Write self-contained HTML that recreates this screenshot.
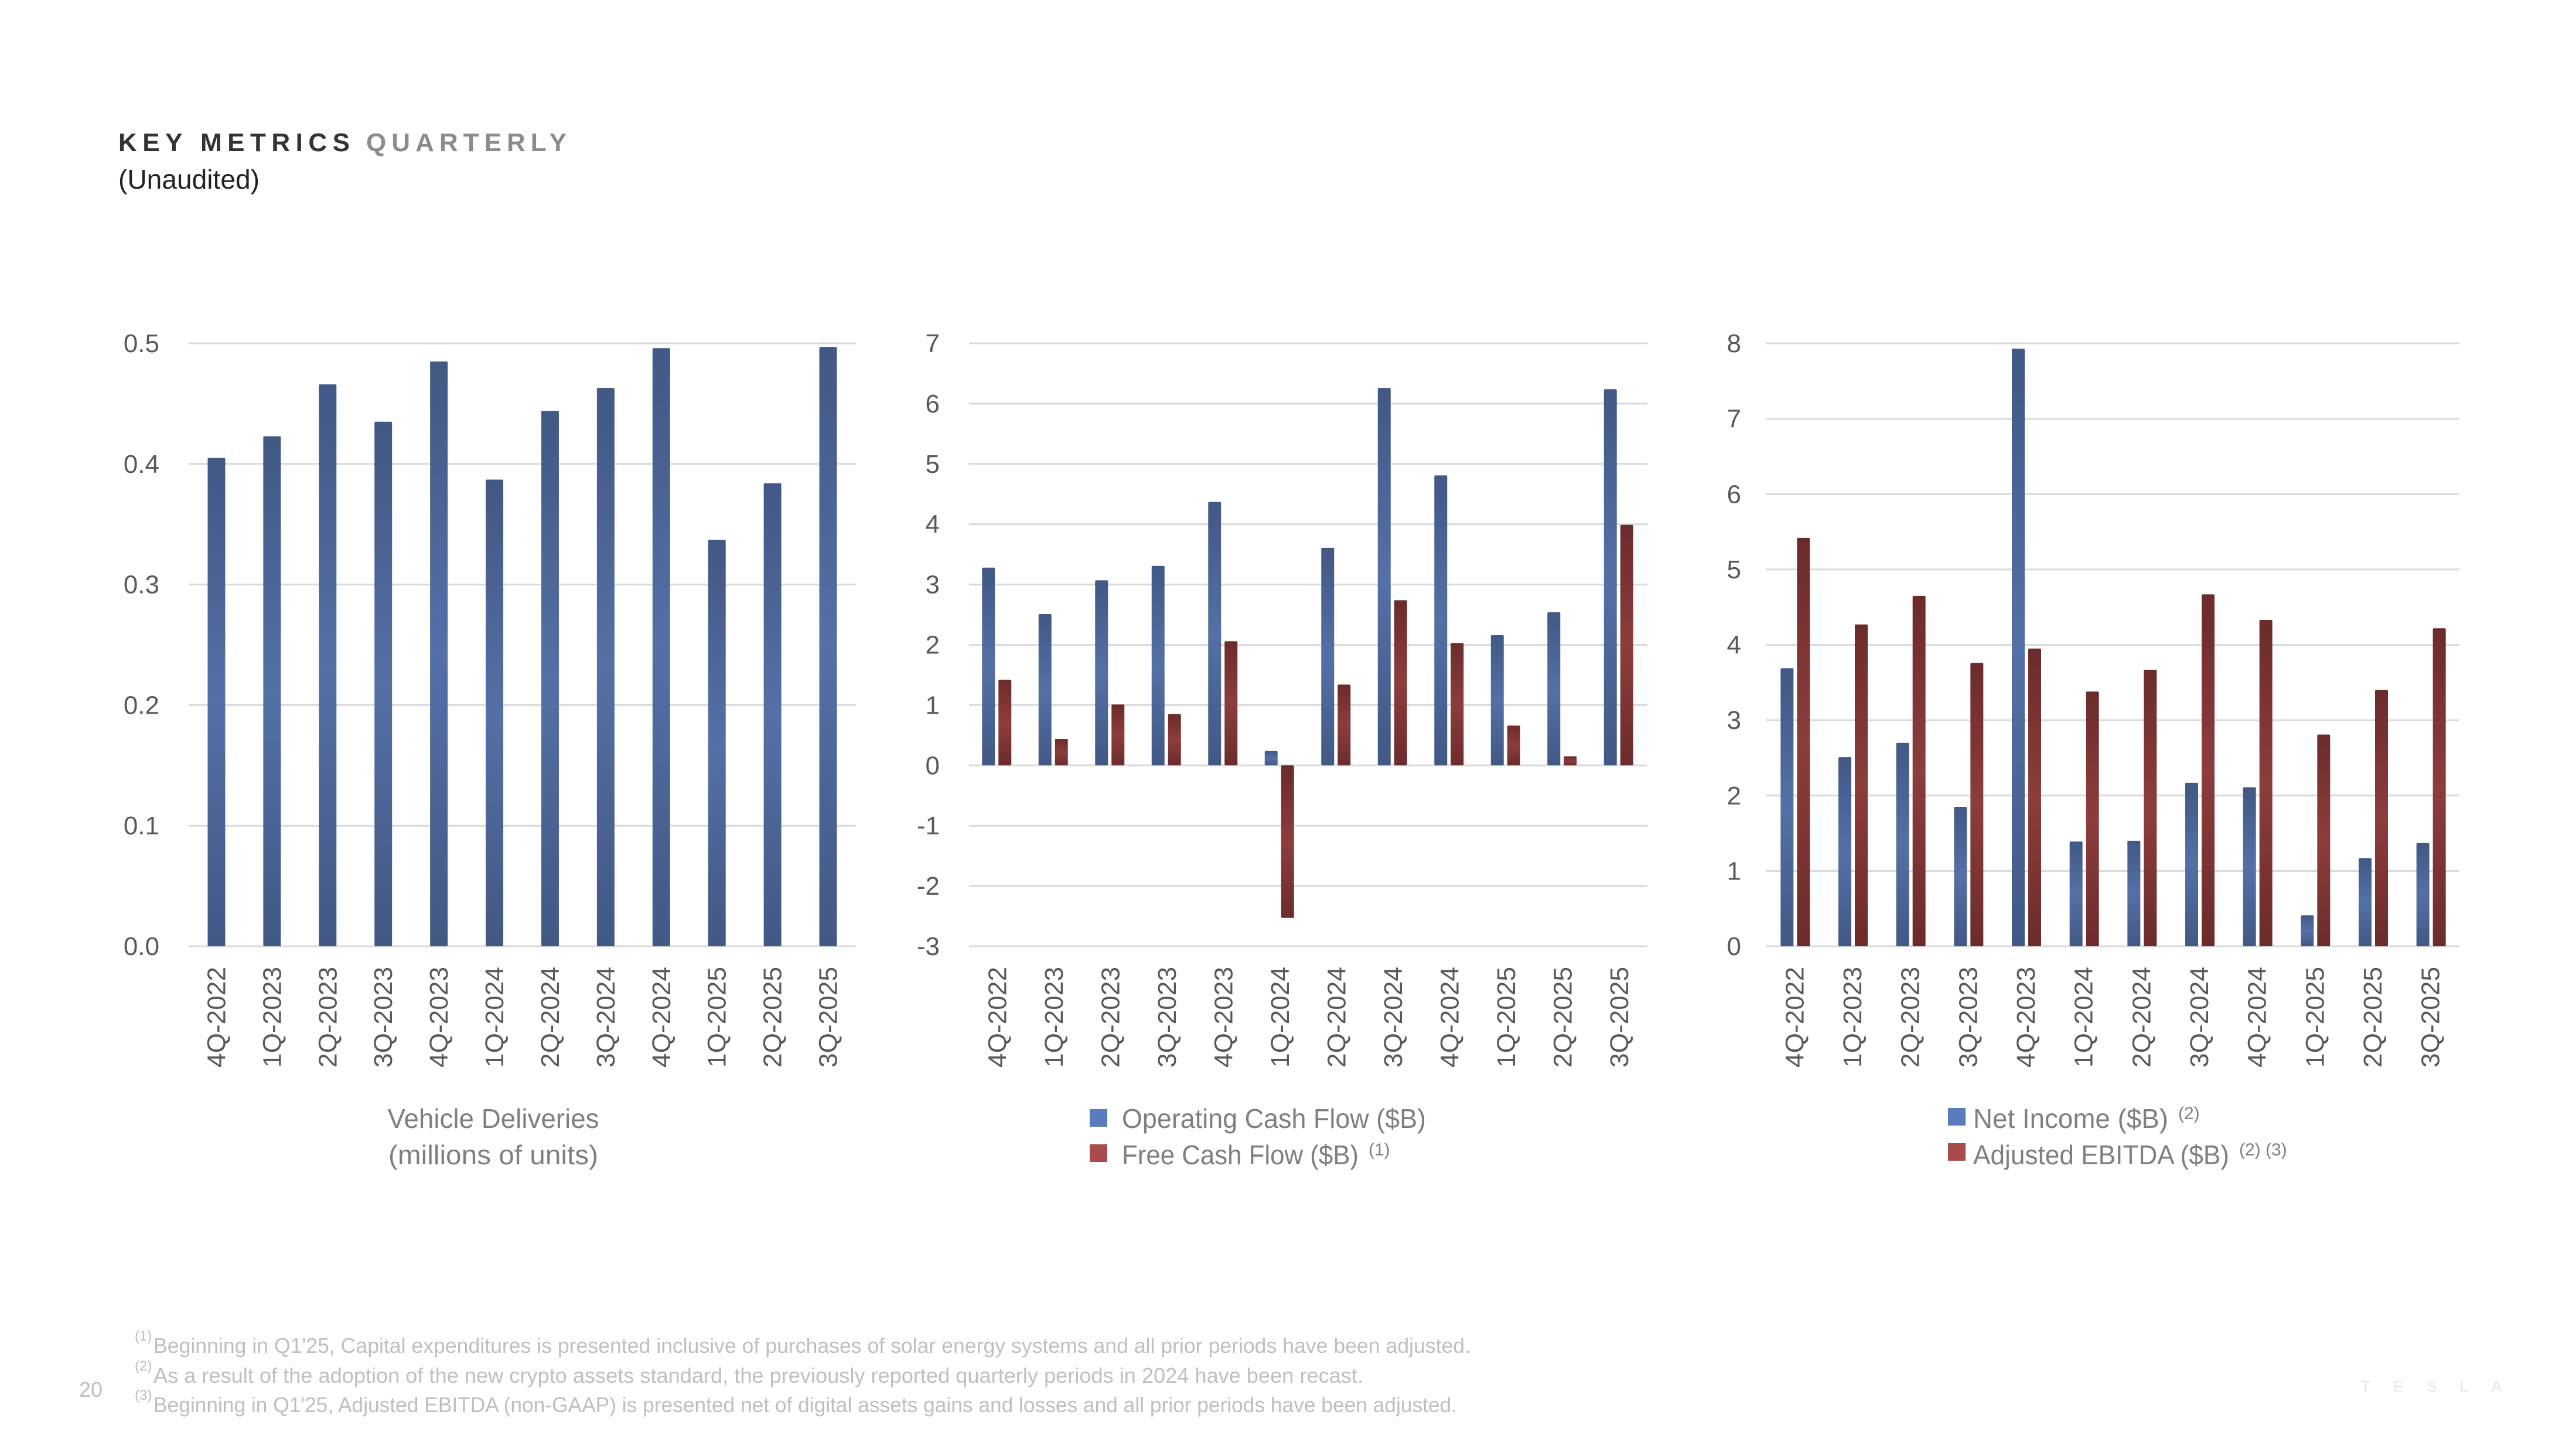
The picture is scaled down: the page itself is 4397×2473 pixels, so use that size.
<!DOCTYPE html>
<html><head><meta charset="utf-8"><style>
html,body{margin:0;padding:0;background:#fff;}
svg{display:block;font-family:"Liberation Sans",sans-serif;}
</style></head><body>
<svg id="s" width="4397" height="2473" viewBox="0 0 4397 2473" xmlns="http://www.w3.org/2000/svg">
<defs>
<linearGradient id="gb" x1="0" y1="0" x2="0" y2="1"><stop offset="0" stop-color="#425885"/><stop offset="0.5" stop-color="#5470a6"/><stop offset="1" stop-color="#425885"/></linearGradient>
<linearGradient id="gr" x1="0" y1="0" x2="0" y2="1"><stop offset="0" stop-color="#6c2b2b"/><stop offset="0.5" stop-color="#8c3d3c"/><stop offset="1" stop-color="#6c2b2b"/></linearGradient>
</defs>
<text x="202" y="258" font-size="44" font-weight="bold" fill="#333" textLength="395" lengthAdjust="spacing">KEY METRICS</text>
<text x="625" y="258" font-size="44" font-weight="bold" fill="#8c8c8c" textLength="342" lengthAdjust="spacing">QUARTERLY</text>
<text x="202" y="322" font-size="46" fill="#222" textLength="241" lengthAdjust="spacingAndGlyphs">(Unaudited)</text>

<text x="842" y="1925" font-size="46" fill="#7f7f7f" text-anchor="middle" textLength="361" lengthAdjust="spacingAndGlyphs">Vehicle Deliveries</text>
<text x="842" y="1987" font-size="46" fill="#7f7f7f" text-anchor="middle" textLength="358" lengthAdjust="spacingAndGlyphs">(millions of units)</text>

<rect x="1860" y="1893" width="30" height="30" fill="#5b7bbf"/>
<text x="1915" y="1925" font-size="46" fill="#7f7f7f" textLength="519" lengthAdjust="spacingAndGlyphs">Operating Cash Flow ($B)</text>
<rect x="1860" y="1953" width="30" height="30" fill="#a94b4b"/>
<text x="1915" y="1987" font-size="46" fill="#7f7f7f" textLength="404" lengthAdjust="spacingAndGlyphs">Free Cash Flow ($B)</text>
<text x="2336" y="1972" font-size="30" fill="#7f7f7f">(1)</text>

<rect x="3325" y="1891" width="30" height="30" fill="#5b7bbf"/>
<text x="3368" y="1925" font-size="46" fill="#7f7f7f" textLength="333" lengthAdjust="spacingAndGlyphs">Net Income ($B)</text>
<text x="3718" y="1910" font-size="30" fill="#7f7f7f">(2)</text>
<rect x="3325" y="1951" width="30" height="30" fill="#a94b4b"/>
<text x="3368" y="1987" font-size="46" fill="#7f7f7f" textLength="437" lengthAdjust="spacingAndGlyphs">Adjusted EBITDA ($B)</text>
<text x="3822" y="1972" font-size="30" fill="#7f7f7f">(2) (3)</text>

<text x="135" y="2384" font-size="36" fill="#bfbfbf">20</text>
<g font-size="36" fill="#bfbfbf">
<text x="230" y="2288" font-size="24">(1)</text><text x="262" y="2309" textLength="2248" lengthAdjust="spacingAndGlyphs">Beginning in Q1'25, Capital expenditures is presented inclusive of purchases of solar energy systems and all prior periods have been adjusted.</text>
<text x="230" y="2339" font-size="24">(2)</text><text x="262" y="2360" textLength="2065" lengthAdjust="spacingAndGlyphs">As a result of the adoption of the new crypto assets standard, the previously reported quarterly periods in 2024 have been recast.</text>
<text x="230" y="2389" font-size="24">(3)</text><text x="262" y="2410" textLength="2225" lengthAdjust="spacingAndGlyphs">Beginning in Q1'25, Adjusted EBITDA (non-GAAP) is presented net of digital assets gains and losses and all prior periods have been adjusted.</text>
</g>
<text x="4030" y="2375" font-size="26" fill="#e4e4e4" textLength="240" lengthAdjust="spacing">TESLA</text>
<g id="charts"></g>
</svg>
<script>
var NS="http://www.w3.org/2000/svg",g=document.getElementById("charts");
function el(t,a,txt){var e=document.createElementNS(NS,t);for(var k in a)e.setAttribute(k,a[k]);if(txt!==undefined)e.textContent=txt;g.appendChild(e);return e;}
var cats=["4Q-2022","1Q-2023","2Q-2023","3Q-2023","4Q-2023","1Q-2024","2Q-2024","3Q-2024","4Q-2024","1Q-2025","2Q-2025","3Q-2025"];
function chart(o){
 var top=586,bot=1615;
 var ppu=(bot-top)/(o.max-o.min);
 function Y(v){return bot-(v-o.min)*ppu;}
 o.ticks.forEach(function(t){var y=Y(t);
  el("line",{x1:o.x0,x2:o.x1,y1:y,y2:y,stroke:"#d9d9d9","stroke-width":3});
  el("text",{x:o.lx,y:y+15,"font-size":44,fill:"#595959","text-anchor":"end"},o.fmt(t));});
 var cw=(o.x1-o.x0)/12;
 cats.forEach(function(c,i){var cx=o.x0+cw*(i+0.5);
  o.series.forEach(function(s){var v=s.d[i];var y0=Y(0),y=Y(v);
   el("rect",{x:cx+s.off,y:Math.min(y,y0),width:s.w,height:Math.abs(y0-y),fill:s.f,rx:2});});
  el("text",{x:0,y:0,"font-size":44,fill:"#595959","text-anchor":"end",textLength:172,lengthAdjust:"spacingAndGlyphs",transform:"translate("+(cx+15)+",1650) rotate(-90)"},c);
 });
}
chart({x0:322,x1:1461,lx:272,min:0,max:0.5,ticks:[0,0.1,0.2,0.3,0.4,0.5],fmt:function(t){return t.toFixed(1);},
 series:[{d:[0.405,0.423,0.466,0.435,0.485,0.387,0.444,0.463,0.496,0.337,0.384,0.497],off:-15,w:30,f:"url(#gb)"}]});
chart({x0:1654,x1:2812,lx:1604,min:-3,max:7,ticks:[-3,-2,-1,0,1,2,3,4,5,6,7],fmt:function(t){return ""+t;},
 series:[{d:[3.28,2.51,3.07,3.31,4.37,0.24,3.61,6.26,4.81,2.16,2.54,6.24],off:-26,w:22,f:"url(#gb)"},
 {d:[1.42,0.44,1.01,0.85,2.06,-2.53,1.34,2.74,2.03,0.66,0.15,3.99],off:2,w:22,f:"url(#gr)"}]});
chart({x0:3014,x1:4198,lx:2972,min:0,max:8,ticks:[0,1,2,3,4,5,6,7,8],fmt:function(t){return ""+t;},
 series:[{d:[3.69,2.51,2.70,1.85,7.93,1.39,1.40,2.17,2.11,0.41,1.17,1.37],off:-24,w:22,f:"url(#gb)"},
 {d:[5.42,4.27,4.65,3.76,3.95,3.38,3.67,4.67,4.33,2.81,3.40,4.22],off:4,w:22,f:"url(#gr)"}]});
</script>
</body></html>
